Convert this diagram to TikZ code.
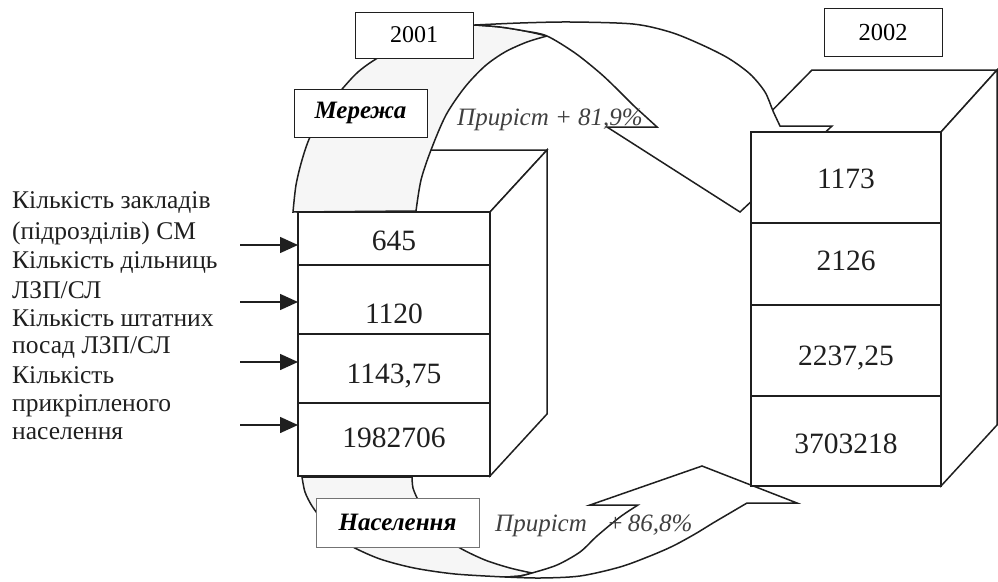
\documentclass[tikz,border=0pt]{standalone}
\usepackage{fontspec}
\setmainfont{Liberation Serif}
\usetikzlibrary{arrows.meta}
\definecolor{ink}{gray}{0.12}
\definecolor{stipple}{gray}{0.965}
\tikzset{
  outline/.style={draw=ink, line width=1.5pt, line join=miter},
  face/.style={outline, fill=white},
  backpart/.style={outline, fill=stipple},
  tag/.style={draw=ink, line width=1pt, fill=white, inner sep=0pt},
  val/.style={font=\fontsize{29.5}{32}\selectfont, text=ink, inner sep=0pt, anchor=base},
  lbl/.style={font=\fontsize{25.5}{28}\selectfont, text=ink, inner sep=0pt, anchor=base west},
  growth/.style={font=\fontsize{25}{28}\selectfont\itshape, text=black!75, inner sep=0pt, anchor=base west},
  feed/.style={draw=ink, line width=1.5pt, -{Triangle[length=18pt,width=16pt]}},
}
\begin{document}
\begin{tikzpicture}[x=1pt,y=-1pt]
\useasboundingbox (0,0) rectangle (998,581);

% ---------- corner points of the two cubes ----------
\coordinate (L) at (298,212);   % front top-left, 2001
\coordinate (R) at (751,132);   % front top-left, 2002

% ---------- 2001 cube: top and side faces ----------
\path[face] (298,212) -- (355,150) -- (547,150) -- (490,212) -- cycle;
\path[face] (490,212) -- (547,150) -- (547,414) -- (490,476) -- cycle;

% ---------- 2002 cube: top and side faces ----------
\path[face] (751,132) -- (812,70) -- (997,70) -- (941,132) -- cycle;
\path[face] (941,132) -- (997,70) -- (997,425) -- (941,486) -- cycle;

% ---------- upper curved arrow (network growth) ----------
\path[backpart]
  plot[smooth] coordinates {(293,212) (296,185) (302,160) (310,137) (325,110) (343,88) (358,72) (376,59) (410,40) (445,29) (475,25)}
  -- plot[smooth] coordinates {(475,25) (500,27) (525,31) (547,36)}
  -- plot[smooth] coordinates {(547,36) (527,42) (505,52) (485,66) (465,87) (446,115) (431,150) (421,180) (416,211)}
  -- cycle;
\path[face]
  plot[smooth] coordinates {(475,25) (520,23) (570,22) (633,24) (670,32) (700,44) (728,58) (750,74) (765,92) (773,111) (780,126)}
  -- (832,126) -- (740,212) -- (607,127) -- (657,127)
  -- plot[smooth] coordinates {(657,127) (645,116) (633,105) (617,89) (600,73) (575,53) (547,36) (525,31) (500,27) (475,25)}
  -- cycle;

% ---------- lower curved arrow (population growth) ----------
\path[backpart]
  plot[smooth] coordinates {(302,477) (305,492) (312,506) (324,522) (338,536) (353,547) (380,559) (414,568) (455,574) (505,577)}
  -- plot[smooth] coordinates {(505,577) (520,576) (532,573)}
  -- plot[smooth] coordinates {(532,573) (510,568) (485,560) (460,548) (440,534) (427,518) (418,500) (413,488) (412,477)}
  -- cycle;
\path[face]
  plot[smooth] coordinates {(505,577) (540,578) (580,576) (620,567) (650,556) (673,546) (695,534) (713,523) (730,513) (747,503)}
  -- (797,503) -- (702,466) -- (590,505) -- (638,505)
  -- plot[smooth] coordinates {(638,505) (620,517) (597,536) (580,552) (557,565) (532,573) (520,576) (505,577)}
  -- cycle;

% ---------- front faces ----------
\draw[face] (298,212) rectangle (490,476);
\draw[outline] (298,265) -- (490,265) (298,334) -- (490,334) (298,403) -- (490,403);
\draw[face] (751,132) rectangle (941,486);
\draw[outline] (751,223) -- (941,223) (751,305) -- (941,305) (751,396) -- (941,396);

% ---------- values ----------
\node[val] (a1) at (394,250) {645};
\node[val] (a2) at (394,323) {1120};
\node[val] (a3) at (394,383) {1143,75};
\node[val] (a4) at (394,447) {1982706};
\node[val] (b1) at (846,188) {1173};
\node[val] (b2) at (846,270) {2126};
\node[val] (b3) at (846,365) {2237,25};
\node[val] (b4) at (846,453) {3703218};

% ---------- captions ----------
\node[tag, minimum width=118, minimum height=46, font=\fontsize{24}{26}\selectfont] (y1) at (414,35) {2001};
\node[tag, minimum width=118, minimum height=48, font=\fontsize{24.5}{26}\selectfont] (y2) at (883,32) {2002};
\node[tag, minimum width=133, minimum height=48, font=\fontsize{25}{28}\selectfont\bfseries\itshape] (net) at (360.5,113) {Мережа};
\node[tag, draw=black!55, minimum width=163, minimum height=49, font=\fontsize{25}{28}\selectfont\bfseries\itshape] (pop) at (397.5,522.5) {Населення};

\node[growth] (g1) at (457,125) {Приріст + 81,9\%};
\node[growth] (g2) at (495,531) {Приріст\hskip 0.8em+\,86,8\%};

% ---------- indicator list ----------
\node[lbl] (t1) at (12,208) {Кількість закладів};
\node[lbl] (t2) at (12,239) {(підрозділів) СМ};
\node[lbl] (t3) at (12,268) {Кількість дільниць};
\node[lbl] (t4) at (12,298) {ЛЗП/СЛ};
\node[lbl] (t5) at (12,326) {Кількість штатних};
\node[lbl] (t6) at (12,353) {посад ЛЗП/СЛ};
\node[lbl] (t7) at (12,383) {Кількість};
\node[lbl] (t8) at (12,411) {прикріпленого};
\node[lbl] (t9) at (12,439) {населення};

% ---------- feed arrows into the 2001 cube ----------
\coordinate (s1) at (240,245);
\coordinate (s2) at (240,302);
\coordinate (s3) at (240,362);
\coordinate (s4) at (240,425);
\draw[feed] (s1) -- (s1 -| L);
\draw[feed] (s2) -- (s2 -| L);
\draw[feed] (s3) -- (s3 -| L);
\draw[feed] (s4) -- (s4 -| L);
\end{tikzpicture}
\end{document}
